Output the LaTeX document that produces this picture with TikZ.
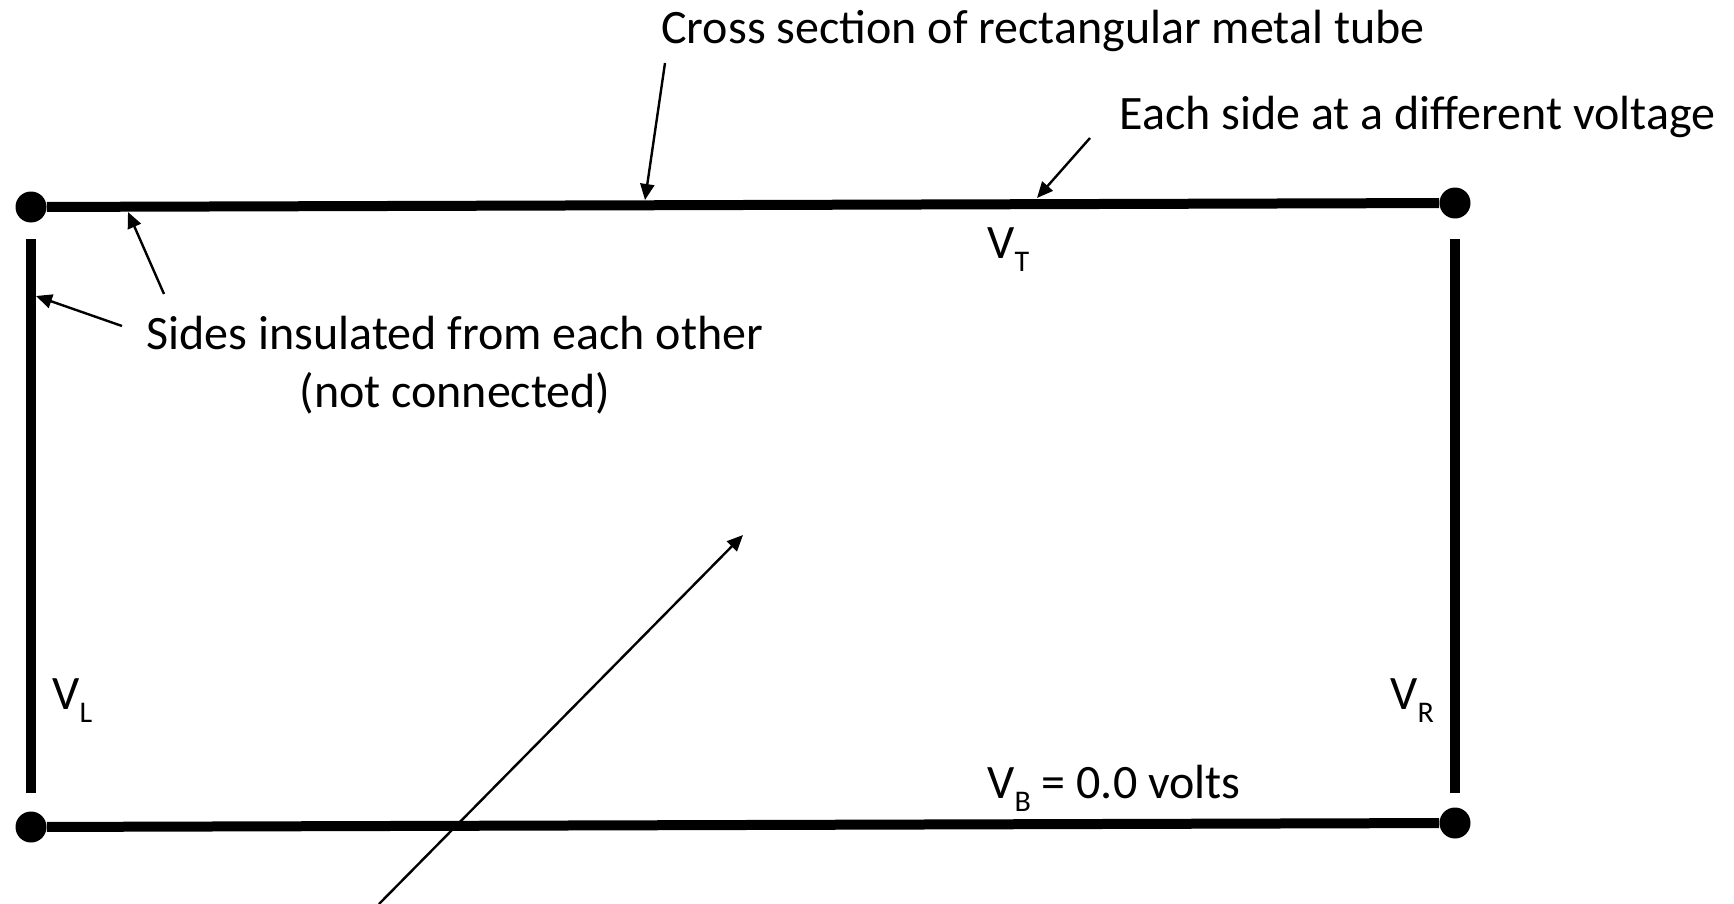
\documentclass[tikz,border=0pt]{standalone}
\usepackage{fontspec}
\setmainfont{Carlito}
\usetikzlibrary{arrows.meta, positioning}
\newcommand{\lowsub}[1]{\raisebox{-0.28em}{\fontsize{15}{18}\selectfont #1}}
\tikzset{
  >=Triangle,
  sidewall/.style={line width=5pt, black},
  pointer/.style={-{Triangle[length=8pt, width=7pt]}, line width=1.2pt, black}
}

\begin{document}
\begin{tikzpicture}[
    x=0.5pt, y=-0.5pt,
    corner/.style={circle, fill=black, inner sep=0pt, minimum size=15.5pt},
    note/.style={inner sep=0pt, align=center, font=\fontsize{24}{29}\selectfont},
    volt/.style={inner sep=0pt, anchor=base west, font=\fontsize{24}{29}\selectfont}
]
    \useasboundingbox (0,0) rectangle (1734,904);

    % Corner dots
    \node[corner] (tl) at (31,207) {};
    \node[corner] (tr) at (1455,203) {};
    \node[corner] (bl) at (31,827) {};
    \node[corner] (br) at (1455,823) {};

    % Sides of the tube
    \coordinate (lt) at (31,239);
    \coordinate (lb) at (31,793);
    \coordinate (rt) at (1455,239);
    \coordinate (rb) at (1455,793);
    \draw[sidewall] (tl) -- (tr);
    \draw[sidewall] (bl) -- (br);
    \draw[sidewall] (lt) -- (lb);
    \draw[sidewall] (rt) -- (rb);

    % Texts
    \node[note, anchor=base west] (cross) at (661,44) {Cross section of rectangular metal tube};
    \node[note, anchor=base west] (each) at (1119,129) {Each side at a different voltage};
    \node[note, anchor=base] (sides) at (455,407) {Sides insulated from each other\\(not connected)};
    \node[volt] (vt) at (987,258) {V\lowsub{T}};
    \node[volt] (vl) at (52,709) {V\lowsub{L}};
    \node[volt] (vr) at (1390,709) {V\lowsub{R}};
    \node[volt] (vb) at (987,798) {V\lowsub{B} = 0.0 volts};

    % Arrows
    \coordinate (crossfrom) at (665,63);
    \coordinate (crosstip) at (645,200);
    \coordinate (eachfrom) at (1090,138);
    \coordinate (eachtip) at (1037,198);
    \coordinate (sidesfromA) at (164,294);
    \coordinate (sidestipA) at (128,212);
    \coordinate (sidesfromB) at (122,326);
    \coordinate (sidestipB) at (36,296);
    \coordinate (insidefrom) at (379,904);
    \coordinate (insidetip) at (743,535);
    \draw[pointer] (crossfrom) -- (crosstip);
    \draw[pointer] (eachfrom) -- (eachtip);
    \draw[pointer] (sidesfromA) -- (sidestipA);
    \draw[pointer] (sidesfromB) -- (sidestipB);
    \draw[pointer] (insidefrom) -- (insidetip);
\end{tikzpicture}
\end{document}
